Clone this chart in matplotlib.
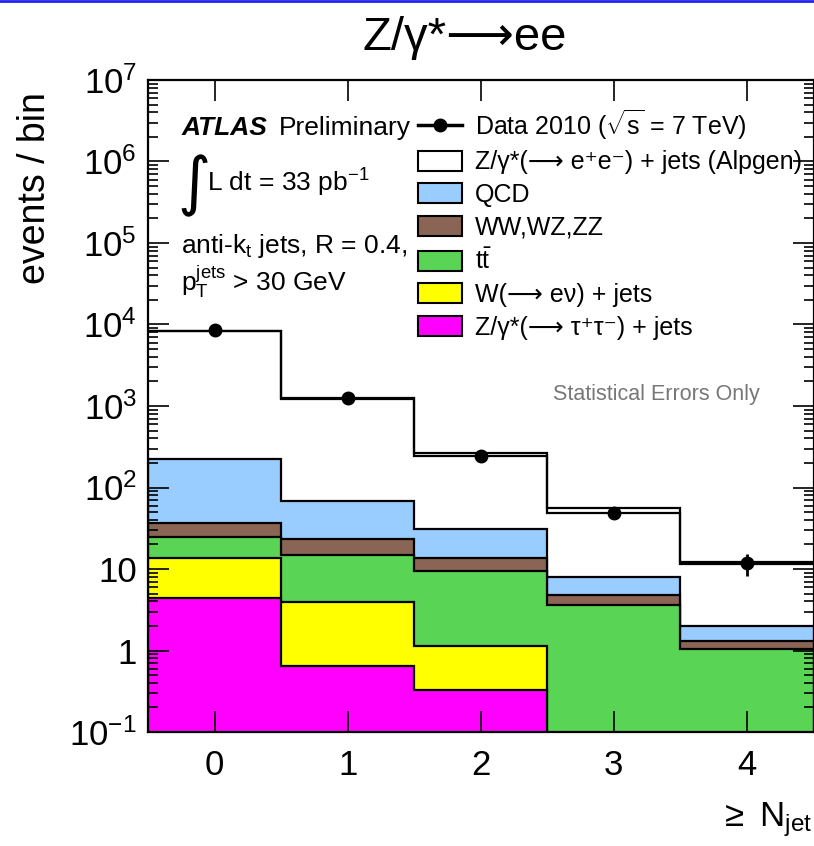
import numpy as np
import matplotlib
matplotlib.use('Agg')
from matplotlib import pyplot as plt
from matplotlib.patches import Patch
from matplotlib.lines import Line2D

plt.rcParams['font.family'] = ['Liberation Sans', 'DejaVu Sans']
plt.rcParams['mathtext.fontset'] = 'custom'
plt.rcParams['mathtext.rm'] = 'Liberation Sans'
plt.rcParams['mathtext.it'] = 'Liberation Sans:italic'
plt.rcParams['mathtext.bf'] = 'Liberation Sans:bold'

# jet multiplicity bins (>= N_jet)
njet = [0, 1, 2, 3, 4]
data = [8500, 1240, 244, 48, 11.7]
data_err = [92, 35, 16, 7, 3.5]

# MC contributions, stacked bottom -> top
ztautau = [4.45, 0.65, 0.33, 0.02, 0.01]
wenu = [9.05, 3.32, 0.81, 0.03, 0.01]
ttbar = [11.0, 10.9, 8.36, 3.55, 1.01]
diboson = [12.2, 8.2, 4.0, 1.2, 0.29]
qcd = [185, 45.8, 17.8, 3.1, 0.68]
zee = [8180, 1161, 222, 44, 9.8]
mc_err = [30, 12, 9.5, 3.7, 0.3]

ytick_vals = [1e-1, 1, 10, 1e2, 1e3, 1e4, 1e5, 1e6, 1e7]
ytick_labels = ['10$^{-1}$', '1', '10', '10$^{2}$', '10$^{3}$', '10$^{4}$',
                '10$^{5}$', '10$^{6}$', '10$^{7}$']

labels = ['Data 2010 ($\\sqrt{\\mathrm{s}}$ = 7 TeV)',
          'Z/\u03b3*(\u27f6 e\u207ae\u207b) + jets (Alpgen)',
          'QCD', 'WW,WZ,ZZ', r'$\mathrm{t\bar{t}}$',
          'W(\u27f6 e\u03bd) + jets',
          'Z/\u03b3*(\u27f6 \u03c4\u207a\u03c4\u207b) + jets']

layers = [ztautau, wenu, ttbar, diboson, qcd, zee]
colors = ['#ff00ff', '#ffff00', '#59d454', '#8a6454', '#99ccff', 'white']

edges = np.arange(len(njet) + 1) - 0.5
cum = np.cumsum(np.array(layers), axis=0)
total = cum[-1]

fig = plt.figure(figsize=(8.14, 8.46), dpi=100)
ax = fig.add_axes([148/814, 1-732/846, 665.5/814, 652/846])
ax.set_yscale('log')

# ROOT-style stack: largest cumulative first, each drawn from the bottom
for i in reversed(range(len(layers))):
    if i == len(layers) - 1:
        ax.stairs(cum[i], edges, baseline=1e-3, fill=True, facecolor='white',
                  edgecolor='none')
    else:
        ax.stairs(cum[i], edges, baseline=1e-3, fill=True, facecolor=colors[i],
                  edgecolor='black', lw=1.6)

ax.stairs(total + np.array(mc_err), edges, baseline=None, color='black', lw=1.6)
ax.stairs(total - np.array(mc_err), edges, baseline=None, color='black', lw=1.6)

ax.errorbar(njet, data, yerr=data_err, fmt='o', color='black', ms=9,
            elinewidth=2, capsize=0, zorder=5)

ax.set_xlim(-0.5, 4.5)
ax.set_ylim(1e-1, 1e7)
ax.set_xticks(njet)
ax.set_xticklabels([str(n) for n in njet])
ax.set_yticks(ytick_vals)
ax.set_yticklabels(ytick_labels)
ax.tick_params(axis='both', which='both', direction='in', top=True, right=True,
               width=1.2, labelsize=25)
ax.tick_params(axis='y', which='major', length=15, pad=8)
ax.tick_params(axis='y', which='minor', length=7.5)
ax.tick_params(axis='x', which='major', length=15, pad=12)
ax.tick_params(axis='x', which='minor', bottom=False, top=False)
for s in ax.spines.values():
    s.set_linewidth(1.6)

handles = [Line2D([], [], color='black', lw=2.5, marker='o', ms=9)]
for c in [colors[5], colors[4], colors[3], colors[2], colors[1], colors[0]]:
    handles.append(Patch(facecolor=c, edgecolor='black', lw=1.5))
ax.legend(handles, labels, loc='upper left',
          bbox_to_anchor=((418-148)/666, (732-107)/652), frameon=False,
          fontsize=18, handlelength=1.75, handleheight=0.85,
          handletextpad=0.55, labelspacing=0.35, borderpad=0, borderaxespad=0)

ax.text(0.051, 0.926, 'ATLAS', transform=ax.transAxes, fontsize=19,
        fontweight='bold', style='italic', va='center')
ax.text(0.196, 0.926, 'Preliminary', transform=ax.transAxes, fontsize=19,
        va='center')
ax.text(0.044, 0.838, '\u222b', transform=ax.transAxes, fontsize=46,
        va='center', family='DejaVu Sans')
ax.text(0.089, 0.842, 'L dt = 33 pb$^{-1}$', transform=ax.transAxes,
        fontsize=19, va='center')
ax.text(0.049, 0.745, 'anti-k$_{\\mathrm{t}}$ jets, R = 0.4,',
        transform=ax.transAxes, fontsize=19, va='center')
ax.text(0.049, 0.69, 'p$_{\\mathrm{T}}^{\\mathrm{jets}}$ > 30 GeV',
        transform=ax.transAxes, fontsize=19, va='center')
ax.text((657-148)/666, (732-394)/652, 'Statistical Errors Only',
        transform=ax.transAxes, fontsize=15.5, color='#777777',
        ha='center', va='center')

fig.text(465/814, 1-38/846, 'Z/\u03b3*\u27f6ee', fontsize=34,
         ha='center', va='center')
fig.text(35/814, 1-188/846, 'events / bin', fontsize=27, rotation=90,
         ha='center', va='center')
fig.text(812/814, 1-820/846, r'$\geq$ N$_{\mathrm{jet}}$', fontsize=25,
         ha='right', va='center')
fig.add_artist(Line2D([0, 1], [0.999, 0.999], color='#2222ee', lw=2,
                      transform=fig.transFigure))

fig.savefig('out.png', dpi=100)
